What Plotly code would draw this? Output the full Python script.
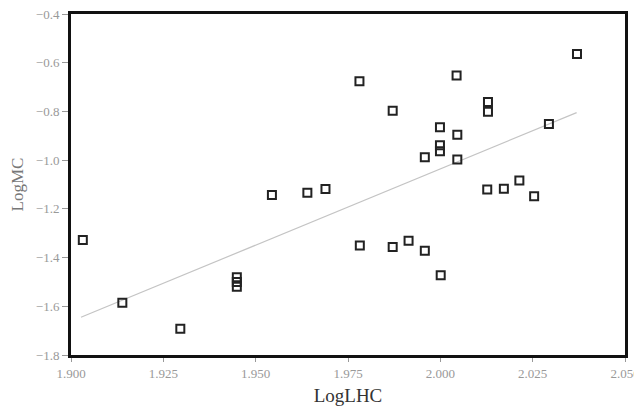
import plotly.graph_objects as go

log_lhc = [1.9032, 1.9139, 1.9296, 1.9449, 1.9449, 1.9449, 1.9544, 1.9640, 1.9689,
           1.9781, 1.9871, 1.9782, 1.9871, 1.9914, 1.9958, 2.0001, 2.0044, 2.0129,
           2.0129, 2.0370, 1.9999, 2.0046, 1.9999, 1.9999, 1.9958, 2.0046, 2.0294,
           2.0127, 2.0172, 2.0214, 2.0254]
log_mc = [-1.328, -1.585, -1.692, -1.481, -1.500, -1.520, -1.143, -1.134, -1.118,
          -0.676, -0.797, -1.350, -1.357, -1.331, -1.372, -1.473, -0.652, -0.761,
          -0.801, -0.564, -0.865, -0.896, -0.939, -0.964, -0.988, -0.997, -0.852,
          -1.121, -1.117, -1.084, -1.148]

# trend line as drawn in the reference (endpoints)
trend_x = [1.9027, 2.0369]
trend_y = [-1.645, -0.805]

x_ticks = [1.900, 1.925, 1.950, 1.975, 2.000, 2.025, 2.050]
y_ticks = [-1.8, -1.6, -1.4, -1.2, -1.0, -0.8, -0.6, -0.4]

fig = go.Figure()
fig.add_trace(go.Scatter(x=trend_x, y=trend_y, mode="lines",
                         line=dict(color="#c4c4c4", width=1.2), showlegend=False))
fig.add_trace(go.Scatter(x=log_lhc, y=log_mc, mode="markers",
                         marker=dict(symbol="square-open", size=8, color="#222222",
                                     line=dict(width=2, color="#222222")),
                         showlegend=False, cliponaxis=False))

font_family = "Liberation Serif, Times New Roman, serif"
# page body has an 8px default margin, so the figure is sized to fit the 642x411 window
fig.update_layout(
    width=634, height=403,
    margin=dict(l=63, r=17, t=6, b=56),
    paper_bgcolor="white", plot_bgcolor="white",
    font=dict(family=font_family, color="#888888", size=11),
    xaxis=dict(range=[1.9, 2.05], tickvals=x_ticks, tickformat=".3f", automargin=False,
               ticklabeloverflow="allow",
               showgrid=False, zeroline=False, showline=True, linecolor="#111111",
               linewidth=3, mirror=True, ticks="outside", ticklen=4, tickcolor="#999999",
               tickfont=dict(size=13, color="#999999"),
               title=dict(text="LogLHC", font=dict(size=19, color="#333333"), standoff=10)),
    yaxis=dict(range=[-1.8, -0.4], tickvals=y_ticks, tickformat=".1f", automargin=False,
               ticklabeloverflow="allow",
               showgrid=False, zeroline=False, showline=True, linecolor="#111111",
               linewidth=3, mirror=True, ticks="outside", ticklen=6, tickcolor="#999999",
               tickfont=dict(size=13, color="#999999"),
               title=dict(text="LogMC", font=dict(size=17, color="#777777"), standoff=20)),
)
fig.write_html("out.html")
